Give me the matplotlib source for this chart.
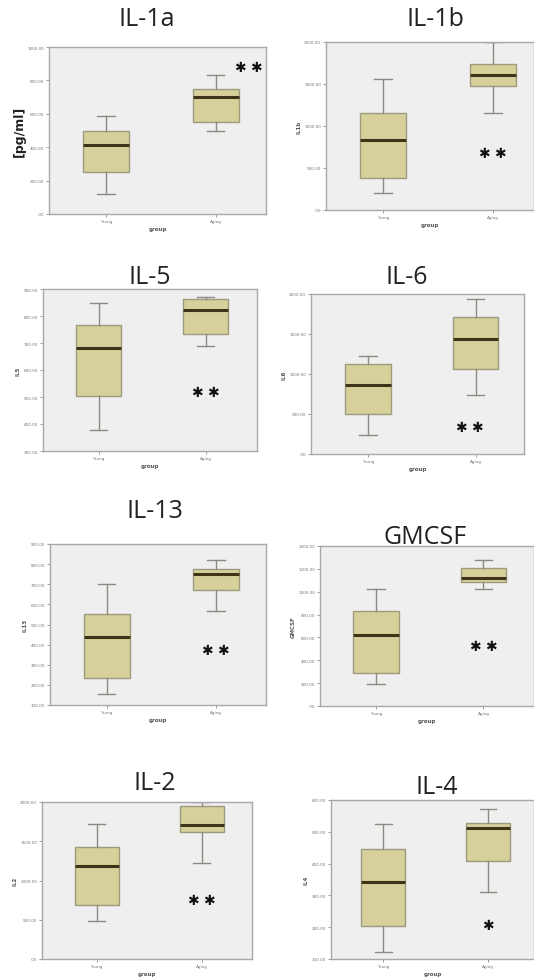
import matplotlib
matplotlib.use("Agg")
import matplotlib.pyplot as plt
from matplotlib.ticker import FixedLocator, FuncFormatter

groups = ["Young", "Aging"]

titles = ["IL-1a", "IL-1b", "IL-5", "IL-6", "IL-13", "GMCSF", "IL-2", "IL-4"]
ylabels = ["[pg/ml]", "IL1b", "IL5", "IL6", "IL13", "GMCSF", "IL2", "IL4"]

# five-number summaries per group: (whisker low, Q1, median, Q3, whisker high)
il1a_young = (120, 250, 416, 496, 586)
il1a_aging = (496, 550, 698, 750, 830)
il1b_young = (199, 386, 829, 1155, 1554)
il1b_aging = (1155, 1482, 1610, 1733, 2000)
il5_young = (378, 502, 683, 766, 849)
il5_aging = (689, 735, 824, 863, 871)
il6_young = (243, 502, 866, 1121, 1226)
il6_aging = (732, 1067, 1443, 1707, 1933)
il13_young = (155, 233, 439, 554, 699)
il13_aging = (567, 669, 749, 775, 820)
gmcsf_young = (190, 293, 621, 829, 1025)
gmcsf_aging = (1025, 1083, 1122, 1207, 1280)
il2_young = (479, 684, 1184, 1423, 1718)
il2_aging = (1227, 1620, 1709, 1945, 1996)
il4_young = (123, 205, 342, 445, 526)
il4_aging = (311, 407, 511, 528, 573)

young = [il1a_young, il1b_young, il5_young, il6_young,
         il13_young, gmcsf_young, il2_young, il4_young]
aging = [il1a_aging, il1b_aging, il5_aging, il6_aging,
         il13_aging, gmcsf_aging, il2_aging, il4_aging]

yticks = [
    [0, 200, 400, 600, 800, 1000],
    [0, 500, 1000, 1500, 2000],
    [300, 400, 500, 600, 700, 800, 900],
    [0, 500, 1000, 1500, 2000],
    [100, 200, 300, 400, 500, 600, 700, 800, 900],
    [0, 200, 400, 600, 800, 1000, 1200, 1400],
    [0, 500, 1000, 1500, 2000],
    [100, 200, 300, 400, 500, 600],
]

# significance marks: (text, x position in group units, y value)
sig_text = ["\u2731 \u2731"] * 7 + ["\u2731"]
sig_x = [2.3, 2.0, 2.0, 1.95, 2.0, 2.0, 2.0, 2.0]
sig_y = [880, 677, 520, 335, 374, 521, 748, 207]

W, H = 534, 978
fig = plt.figure(figsize=(W / 100, H / 100), dpi=100)
fig.patch.set_facecolor("white")

# axes boxes in pixels: left, top, right, bottom
boxes = [
    (49, 48, 266, 215),
    (326, 43, 534, 211),
    (43, 290, 257, 452),
    (311, 295, 524, 455),
    (50, 545, 266, 706),
    (320, 547, 534, 707),
    (42, 803, 252, 960),
    (331, 801, 534, 960),
]
# x limits chosen so box centers land where they appear
xlims = [
    (0.48, 2.46), (0.48, 2.37), (0.48, 2.48), (0.47, 2.45),
    (0.48, 2.46), (0.48, 2.47), (0.48, 2.48), (0.50, 2.44),
]
title_pos = [(147, 20), (435, 20), (150, 278), (407, 278),
             (155, 511), (425, 537), (155, 783), (437, 787)]

box_fill = "#D6D09A"
box_edge = "#9E9A7E"
median_c = "#3E3418"
whisk_c = "#8A8A80"

for i in range(8):
    l, t, r, b = boxes[i]
    ax = fig.add_axes([l / W, 1 - b / H, (r - l) / W, (b - t) / H])
    ax.set_facecolor("#EFEFEF")
    stats = []
    for g, s in zip(groups, (young[i], aging[i])):
        stats.append(dict(label=g, whislo=s[0], q1=s[1], med=s[2],
                          q3=s[3], whishi=s[4], fliers=[]))
    ax.bxp(stats, positions=[1, 2], widths=0.42, patch_artist=True,
           showfliers=False, capwidths=0.16,
           boxprops=dict(facecolor=box_fill, edgecolor=box_edge, linewidth=1.0),
           medianprops=dict(color=median_c, linewidth=2.2),
           whiskerprops=dict(color=whisk_c, linewidth=1.0),
           capprops=dict(color=whisk_c, linewidth=1.0))
    ax.set_xlim(*xlims[i])
    ax.set_ylim(yticks[i][0], yticks[i][-1])
    ax.yaxis.set_major_locator(FixedLocator(yticks[i]))
    ax.yaxis.set_major_formatter(FuncFormatter(
        lambda v, p: ".00" if v == 0 else f"{v:.2f}"))
    ax.set_xticks([1, 2])
    ax.set_xticklabels(groups)
    ax.tick_params(labelsize=3, length=2, width=0.5, colors="#777777",
                   labelcolor="#777777", pad=1.5)
    for sp in ax.spines.values():
        sp.set_color("#A8A8A8")
        sp.set_linewidth(1.0)
    ax.set_xlabel("group", fontsize=4, color="#555555", labelpad=2,
                  fontweight="bold")
    if i == 0:
        ax.set_ylabel(ylabels[i], fontsize=9, color="#222222", labelpad=1,
                      fontweight="bold")
    else:
        ax.set_ylabel(ylabels[i], fontsize=4, color="#555555", labelpad=2,
                      fontweight="bold")
    ax.text(sig_x[i], sig_y[i], sig_text[i], ha="center", va="center",
            fontsize=10, color="#111111",
            family=["DejaVu Sans", "Noto Sans CJK SC"])
    tx, ty = title_pos[i]
    fig.text(tx / W, 1 - ty / H, titles[i], ha="center", va="center",
             fontsize=18, color="#222222", family="Open Sans")

fig.savefig("out.png", dpi=100, facecolor="white")
